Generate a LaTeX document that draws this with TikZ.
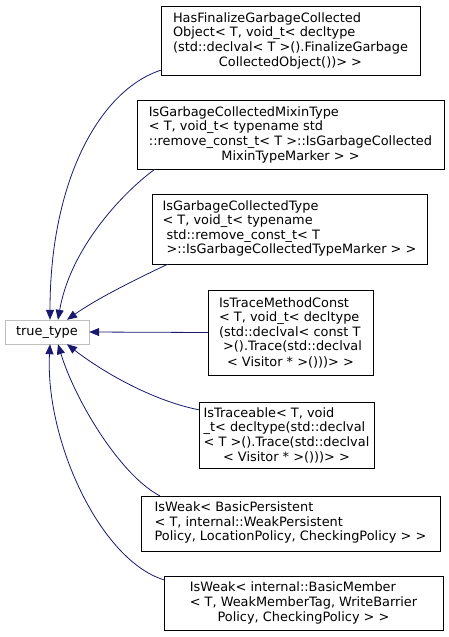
\documentclass[tikz,border=0pt]{standalone}
\usepackage{fontspec}
\setmainfont{DejaVu Sans}
\usepackage{xcolor}
\usetikzlibrary{arrows.meta}
\definecolor{edgeblue}{HTML}{191970}
\definecolor{basegray}{HTML}{BFBFBF}
\newcommand{\lines}[1]{\begin{tabular}{@{}l@{}}#1\end{tabular}}

\begin{document}
\begin{tikzpicture}[x=1pt,y=-1pt,
  cls/.style={draw=black,fill=white,align=center,inner sep=0pt,font=\fontsize{12.9}{14.5}\selectfont},
  base/.style={cls,draw=basegray},
  inh/.style={draw=edgeblue,line width=0.8pt,-{Triangle[length=10pt,width=8pt]},fill=none}]
\useasboundingbox (0,0) rectangle (449,637);
\node[base,minimum width=84,minimum height=24] (tt) at (47,332) {true\_type};
\node[cls,minimum width=259,minimum height=69] (hfg) at (290.5,40.5)
  {\lines{HasFinalizeGarbageCollected\\Object< T, void\_t< decltype\\(std::declval< T >().FinalizeGarbage}\\CollectedObject())> >};
\node[cls,minimum width=307,minimum height=69] (gcm) at (290.5,134.5)
  {\lines{IsGarbageCollectedMixinType\\< T, void\_t< typename std\\::remove\_const\_t< T >::IsGarbageCollected}\\MixinTypeMarker > >};
\node[cls,minimum width=275,minimum height=70] (gct) at (289.5,229)
  {\lines{IsGarbageCollectedType\\< T, void\_t< typename\\\ std::remove\_const\_t< T\\\ >::IsGarbageCollectedTypeMarker > >}};
\node[cls,minimum width=165,minimum height=85] (tmc) at (290.5,332.5)
  {\lines{IsTraceMethodConst\\< T, void\_t< decltype\\(std::declval< const T\\\ >().Trace(std::declval}\\< Visitor * >()))> >};
\node[cls,minimum width=175,minimum height=66] (trc) at (286.5,435)
  {\lines{IsTraceable< T, void\\\_t< decltype(std::declval\\< T >().Trace(std::declval}\\< Visitor * >()))> >};
\node[cls,minimum width=299,minimum height=55] (wbp) at (290.5,523.5)
  {\lines{IsWeak< BasicPersistent\\< T, internal::WeakPersistent\\Policy, LocationPolicy, CheckingPolicy > >}};
\node[cls,minimum width=279,minimum height=54] (wbm) at (303.5,603)
  {\lines{IsWeak< internal::BasicMember\\< T, WeakMemberTag, WriteBarrier}\\Policy, CheckingPolicy > >};
% derived -> base
\draw[inh] ([yshift=5]hfg.south west) .. controls (100,90) and (50,180) .. ([xshift=3]tt.north);
\draw[inh] ([xshift=18]gcm.south west) .. controls (120,195) and (70,250) .. ([xshift=11]tt.north);
\draw[inh] ([xshift=16]gct.south west) .. controls (130,282) and (95,300) .. ([xshift=20]tt.north);
\draw[inh] (tmc.west) -- (tt.east);
\draw[inh] ([yshift=-8]trc.north west) .. controls (150,400) and (100,370) .. ([xshift=20]tt.south);
\draw[inh] ([xshift=19]wbp.north west) .. controls (120,475) and (75,400) .. ([xshift=11]tt.south);
\draw[inh] ([yshift=-4]wbm.north west) .. controls (100,560) and (45,440) .. ([xshift=3]tt.south);
\end{tikzpicture}
\end{document}
